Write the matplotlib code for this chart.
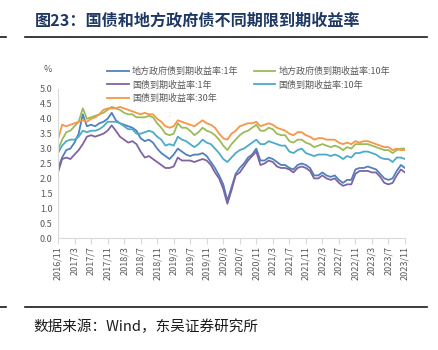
import numpy as np
import matplotlib
matplotlib.use("Agg")
import matplotlib.pyplot as plt
from matplotlib.lines import Line2D

plt.rcParams['font.family'] = ['Noto Sans CJK SC', 'DejaVu Sans']

# 月度数据 2016/11 - 2023/11
start_year, start_month = 2016, 11
n = 85

local_1y = [2.35, 2.7, 2.95, 3.0, 3.2, 3.5, 4.15, 3.75, 3.8, 3.75, 3.85, 3.9, 4.0, 4.2,
            3.95, 3.85, 3.8, 3.75, 3.7, 3.6, 3.35, 3.25, 3.3, 3.2, 3.0, 2.85, 2.75, 2.65,
            2.8, 3.0, 2.9, 2.8, 2.75, 2.8, 2.8, 2.85, 2.75, 2.55, 2.35, 2.1, 1.8, 1.25,
            1.7, 2.15, 2.35, 2.5, 2.7, 2.8, 3.0, 2.6, 2.6, 2.7, 2.65, 2.55, 2.45, 2.45,
            2.35, 2.3, 2.45, 2.5, 2.45, 2.35, 2.1, 2.1, 2.2, 2.1, 2.05, 2.1, 1.95, 1.85,
            1.95, 1.95, 2.3, 2.35, 2.35, 2.4, 2.35, 2.3, 2.15, 2.0, 1.95, 2.0, 2.25, 2.45,
            2.35]
local_10y = [2.95, 3.3, 3.55, 3.6, 3.75, 3.9, 4.35, 4.0, 4.05, 4.1, 4.15, 4.2, 4.3, 4.4,
             4.35, 4.3, 4.2, 4.15, 4.15, 4.05, 4.05, 4.05, 4.1, 4.05, 3.85, 3.7, 3.5, 3.45,
             3.5, 3.85, 3.7, 3.7, 3.6, 3.45, 3.55, 3.7, 3.6, 3.55, 3.45, 3.3, 3.1, 2.95,
             3.15, 3.3, 3.45, 3.55, 3.6, 3.7, 3.8, 3.6, 3.6, 3.7, 3.65, 3.5, 3.45, 3.45,
             3.25, 3.2, 3.3, 3.3, 3.2, 3.15, 3.05, 3.1, 3.15, 3.1, 3.05, 3.1, 3.05, 2.95,
             3.05, 3.0, 3.15, 3.15, 3.15, 3.15, 3.1, 3.05, 3.0, 2.95, 2.95, 2.85, 2.95, 3.0,
             3.0]
cgb_1y = [2.2, 2.65, 2.7, 2.65, 2.8, 2.95, 3.15, 3.4, 3.45, 3.4, 3.45, 3.5, 3.6, 3.78,
          3.6, 3.4, 3.3, 3.2, 3.25, 3.15, 2.9, 2.7, 2.75, 2.65, 2.55, 2.45, 2.35, 2.35,
          2.4, 2.7, 2.6, 2.6, 2.6, 2.55, 2.6, 2.65, 2.6, 2.45, 2.2, 2.0, 1.65, 1.15,
          1.6, 2.1, 2.2, 2.4, 2.6, 2.75, 2.9, 2.45, 2.5, 2.6, 2.55, 2.4, 2.35, 2.35,
          2.3, 2.2, 2.35, 2.4, 2.35, 2.25, 2.0, 2.0, 2.1, 2.0, 1.95, 2.0, 1.85, 1.75,
          1.8, 1.8, 2.15, 2.25, 2.25, 2.25, 2.2, 2.2, 2.05, 1.85, 1.8, 1.85, 2.1, 2.3,
          2.2]
cgb_10y = [2.85, 3.1, 3.25, 3.3, 3.3, 3.4, 3.6, 3.55, 3.6, 3.6, 3.65, 3.75, 3.9, 3.9,
           3.9, 3.85, 3.75, 3.65, 3.65, 3.5, 3.5, 3.55, 3.6, 3.55, 3.4, 3.3, 3.1, 3.15,
           3.1, 3.4, 3.3, 3.25, 3.15, 3.05, 3.15, 3.3, 3.2, 3.15, 3.0, 2.85, 2.65, 2.55,
           2.7, 2.85, 2.95, 3.0, 3.1, 3.2, 3.3, 3.15, 3.15, 3.25, 3.2, 3.15, 3.1, 3.1,
           2.9, 2.85, 2.95, 3.0, 2.85, 2.8, 2.75, 2.8, 2.8, 2.8, 2.75, 2.8, 2.75, 2.65,
           2.75, 2.7, 2.85, 2.85, 2.9, 2.9, 2.85, 2.8, 2.7, 2.65, 2.65, 2.55, 2.7, 2.7,
           2.65]
cgb_30y = [3.3, 3.8, 3.75, 3.8, 3.85, 3.9, 3.95, 3.9, 4.0, 4.05, 4.15, 4.3, 4.35, 4.35,
           4.35, 4.4, 4.35, 4.3, 4.25, 4.2, 4.15, 4.2, 4.15, 4.15, 4.0, 3.9, 3.75, 3.7,
           3.75, 3.95, 3.9, 3.85, 3.8, 3.75, 3.85, 3.95, 3.85, 3.8, 3.7, 3.5, 3.35, 3.3,
           3.5, 3.6, 3.75, 3.8, 3.85, 3.85, 3.9, 3.75, 3.8, 3.85, 3.8, 3.7, 3.65, 3.6,
           3.5, 3.45, 3.55, 3.55, 3.45, 3.4, 3.3, 3.35, 3.35, 3.3, 3.3, 3.3, 3.2, 3.15,
           3.2, 3.15, 3.25, 3.2, 3.25, 3.25, 3.2, 3.15, 3.1, 3.05, 3.05, 2.95, 3.0, 2.95,
           2.95]

labels = []
for i in range(n):
    m = start_month - 1 + i
    labels.append(f"{start_year + m // 12}/{m % 12 + 1}")
x = np.arange(n)

fig = plt.figure(figsize=(4.39, 3.5), dpi=100)
ax = fig.add_axes([58 / 439, 1 - 238 / 350, (405 - 58) / 439, (238 - 89) / 350])

c_blue, c_green, c_purple, c_cyan, c_orange = '#4F81BD', '#9BBB59', '#8064A2', '#4BACC6', '#F79646'
lw = 1.3
l1, = ax.plot(x, local_1y, color=c_blue, lw=lw)
l2, = ax.plot(x, local_10y, color=c_green, lw=lw)
l4, = ax.plot(x, cgb_10y, color=c_cyan, lw=lw)
l5, = ax.plot(x, cgb_30y, color=c_orange, lw=lw)
l3, = ax.plot(x, cgb_1y, color=c_purple, lw=lw)

ax.set_xlim(0, n - 1)
ax.set_ylim(0, 5)
ax.set_yticks(np.arange(0, 5.01, 0.5))
ax.set_yticklabels([f"{v:.1f}" for v in np.arange(0, 5.01, 0.5)])
ax.set_xticks(x[::4])
ax.set_xticklabels(labels[::4], rotation=90)
for s in ['top', 'right']:
    ax.spines[s].set_visible(False)
for s in ['left', 'bottom']:
    ax.spines[s].set_color('#D9D9D9')
    ax.spines[s].set_linewidth(0.8)
ax.tick_params(axis='y', length=0, labelsize=6.5, colors='#595959', pad=4)
ax.tick_params(axis='x', length=4, width=0.8, color='#D9D9D9', labelsize=6.5,
               labelcolor='#595959', pad=2)
fig.text(48 / 439, 1 - 70 / 350, '%', fontsize=6.5, color='#595959', ha='center', va='center')

handles = [l1, l3, l5, l2, l4]
names = ['地方政府债到期收益率:1年', '国债到期收益率:1年', '国债到期收益率:30年',
         '地方政府债到期收益率:10年', '国债到期收益率:10年']
fig.legend(handles, names, loc='upper left', bbox_to_anchor=(107 / 439, 1 - 67 / 350),
           ncol=2, frameon=False, fontsize=6.5, labelcolor='#595959',
           handlelength=2.4, handletextpad=0.35, columnspacing=1.7, labelspacing=0.45,
           borderaxespad=0, borderpad=0)

# 标题与分隔线
fig.text(35 / 439, 1 - 20 / 350, '图23：国债和地方政府债不同期限到期收益率', fontsize=11.6,
         fontweight='bold', color='#1F3864', va='center', ha='left')
for yy in [37, 307]:
    fig.add_artist(Line2D([25 / 439, 427 / 439], [1 - yy / 350] * 2, color='#1a1a1a', lw=1.2))
    fig.add_artist(Line2D([0, 6 / 439], [1 - yy / 350] * 2, color='#1a1a1a', lw=1.2))
fig.text(33 / 439, 1 - 327 / 350, '数据来源：Wind，东吴证券研究所', fontsize=10.5,
         color='#1a1a1a', va='center', ha='left')

fig.savefig('out.png', dpi=100)
